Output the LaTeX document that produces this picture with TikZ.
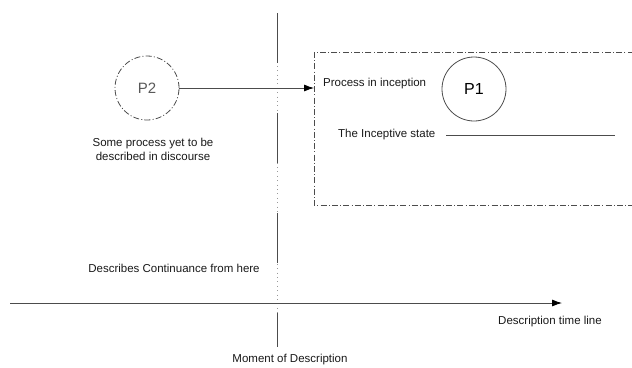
\documentclass[tikz,border=0pt]{standalone}
\usepackage{fontspec}
\setmainfont{Liberation Sans}
\usetikzlibrary{arrows.meta}
\begin{document}
\begin{tikzpicture}[x=1pt,y=-1pt,
  lbl/.style={font=\fontsize{11.5}{13.5}\selectfont, text=black!90, inner sep=0pt, align=center},
  plain/.style={draw=black!70, line width=0.8pt},
  dashdot/.style={dash pattern=on 6pt off 2.2pt on 1pt off 2.2pt},
  tip/.style={-{Latex[length=10pt,width=7pt,fill=black,color=black]}},
  proc/.style={circle, draw=black!70, line width=0.8pt, minimum size=64pt, inner sep=0pt}]
\useasboundingbox (0,0) rectangle (632,367);

% moment of description: solid stretches joined by dotted gaps
\coordinate (mtop) at (277,13);
\coordinate (mbot) at (277,347);
\draw[black!40, line width=0.7pt, dash pattern=on 0.8pt off 3.6pt] (mtop) -- (mbot);
\draw[plain, dash pattern=on 50pt off 50pt] (mtop) -- (mbot);

% frame of the inceptive process (runs off the right edge)
\coordinate (fa) at (314,52);
\coordinate (fb) at (640,205);
\draw[plain, dashdot] (fa) rectangle (fb);
\coordinate (fin) at (314,88);

% processes
\node[proc, dashdot, text=black!65, font=\fontsize{15}{17}\selectfont] (p2) at (147,88) {P2};
\node[proc, font=\fontsize{16}{18}\selectfont] (p1) at (474,89) {P1};
\draw[plain, tip] (p2) -- (fin);

\node[lbl] (p2txt) at (153,149.5) {Some process yet to be\\described in discourse};
\node[lbl, anchor=west] (incep) at (323,84) {Process in inception};
\node[lbl, anchor=west] (state) at (338,135) {The Inceptive state};
\coordinate (sa) at (446,135);
\coordinate (sb) at (615,135);
\draw[plain] (sa) -- (sb);

% time line
\coordinate (ax0) at (10,303);
\coordinate (ax1) at (562,303);
\draw[plain, tip] (ax0) -- (ax1);
\node[lbl] (tl) at (550,322) {Description time line};
\node[lbl] (cont) at (174,268) {Describes Continuance from here};
\node[lbl] (mom) at (290,360) {Moment of Description};
\end{tikzpicture}
\end{document}
